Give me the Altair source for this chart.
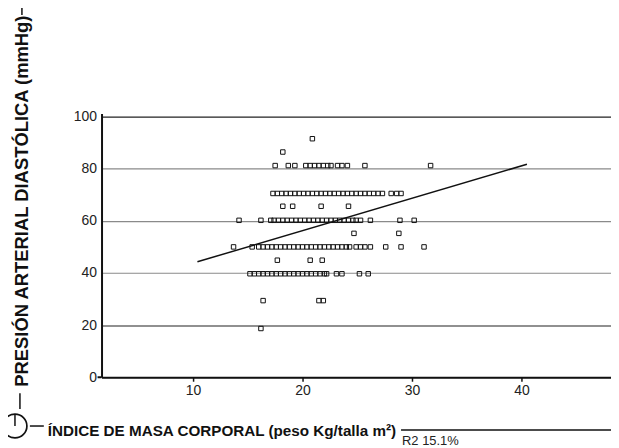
import altair as alt
import pandas as pd

# ---- data ----
dbp_levels = [91.5, 86.4, 81.2, 70.5, 65.6, 60.2, 55.2, 50.0, 44.9, 39.7, 29.4, 18.7]
bmi_91 = [20.9]
bmi_86 = [18.2]
bmi_81 = [17.5, 18.7, 19.3, 20.3, 20.7, 21.1, 21.5, 21.9, 22.3, 22.6, 23.2, 23.6, 24.1, 25.7, 31.7]
bmi_70 = [17.3, 17.7, 18.1, 18.5, 18.9, 19.3, 19.7, 20.1, 20.5, 20.9, 21.3, 21.7, 22.1, 22.5, 22.9,
          23.3, 23.7, 24.1, 24.5, 24.9, 25.3, 25.7, 26.1, 26.5, 26.9, 27.3, 28.1, 28.6, 29.0]
bmi_65 = [18.2, 19.1, 21.7, 24.2]
bmi_60 = [14.2, 16.2, 17.1, 17.4, 17.8, 18.2, 18.6, 19.0, 19.4, 19.8, 20.2, 20.6, 21.0, 21.4, 21.8,
          22.2, 22.6, 23.0, 23.4, 23.8, 24.2, 24.6, 24.9, 25.3, 26.2, 28.9, 30.2]
bmi_55 = [24.7, 28.8]
bmi_50 = [13.7, 15.4, 16.0, 16.4, 16.8, 17.2, 17.6, 18.0, 18.4, 18.8, 19.2, 19.6, 20.0, 20.4, 20.8,
          21.2, 21.6, 22.0, 22.4, 22.8, 23.2, 23.6, 24.0, 24.3, 24.9, 25.3, 25.7, 26.2, 27.6, 29.0, 31.1]
bmi_45 = [17.7, 20.7, 21.8]
bmi_40 = [15.2, 15.6, 16.0, 16.4, 16.8, 17.2, 17.6, 18.0, 18.4, 18.8, 19.2, 19.6, 20.0, 20.4, 20.8,
          21.2, 21.6, 22.0, 22.2, 23.1, 23.6, 25.2, 26.0]
bmi_29 = [16.4, 21.5, 21.9]
bmi_19 = [16.2]
bmi_rows = [bmi_91, bmi_86, bmi_81, bmi_70, bmi_65, bmi_60, bmi_55, bmi_50, bmi_45, bmi_40, bmi_29, bmi_19]

reg_x = [10.4, 40.5]
reg_y = [44.3, 81.7]

y_ticks = [0, 20, 40, 60, 80, 100]
x_ticks = [10, 20, 30, 40]

y_title = "PRESIÓN ARTERIAL DIASTÓLICA (mmHg)"
x_title = "ÍNDICE DE MASA CORPORAL (peso Kg/talla m²)"
r2_text = "R2 15.1%"

rows = []
for lvl, xs in zip(dbp_levels, bmi_rows):
    for v in xs:
        rows.append({"imc": v, "pad": lvl})
pts = pd.DataFrame(rows)
reg = pd.DataFrame({"imc": reg_x, "pad": reg_y})

FONT = "Liberation Sans"
W, H = 512, 265

xscale = alt.Scale(domain=[1.64, 48.18], nice=False, zero=False)
yscale = alt.Scale(domain=[0, 101.15], nice=False, zero=False)

grid_color = alt.condition("datum.value == 100 || datum.value == 20",
                           alt.value("#222222"), alt.value("#8a8a8a"))

xaxis = alt.Axis(values=x_ticks, grid=False, title=None, domainColor="#111111", domainWidth=2,
                 tickColor="#111111", tickSize=4, tickWidth=1.5, labelFontSize=14, labelFont=FONT,
                 labelColor="#222222", labelPadding=2)
yaxis = alt.Axis(values=y_ticks, grid=True, gridColor=grid_color, gridWidth=1.2, title=None,
                 domainColor="#111111", domainWidth=2, ticks=False, labelFontSize=14,
                 labelFont=FONT, labelColor="#222222", labelPadding=5, labelBaseline="middle")

points = alt.Chart(pts).mark_point(shape="square", filled=False, size=20, strokeWidth=1,
                                   color="#111111", opacity=1).encode(
    x=alt.X("imc:Q", scale=xscale, axis=xaxis),
    y=alt.Y("pad:Q", scale=yscale, axis=yaxis),
)

line = alt.Chart(reg).mark_line(color="#111111", strokeWidth=1.5).encode(
    x=alt.X("imc:Q", scale=xscale), y=alt.Y("pad:Q", scale=yscale))

# decorations (page px -> chart px: x-102, y-113)
def rule(x1, y1, x2, y2, w=1.5):
    return alt.Chart(pd.DataFrame({"a": [0]})).mark_rule(color="#111111", strokeWidth=w).encode(
        x=alt.value(x1), y=alt.value(y1), x2=alt.value(x2), y2=alt.value(y2))

dec_df = pd.DataFrame({"a": [0]})
ytitle = alt.Chart(dec_df).mark_text(text=y_title, angle=270, font=FONT, fontSize=18.5,
                                     fontWeight="bold", color="#111111", align="center",
                                     baseline="middle").encode(x=alt.value(-80), y=alt.value(88))
xtitle = alt.Chart(dec_df).mark_text(text=x_title, font=FONT, fontSize=15.3, fontWeight="bold",
                                     color="#111111", align="left",
                                     baseline="alphabetic").encode(x=alt.value(-54), y=alt.value(324))
r2 = alt.Chart(dec_df).mark_text(text=r2_text, font=FONT, fontSize=13, color="#222222",
                                 align="left", baseline="top").encode(x=alt.value(302), y=alt.value(323))
circle = alt.Chart(dec_df).mark_point(shape="circle", size=576, filled=False, strokeWidth=1.7,
                                      color="#111111", opacity=1).encode(
    x=alt.value(-87), y=alt.value(314))

chart = alt.layer(
    points, line,
    rule(-80, -112, -80, -99),
    rule(-82, 281, -82, 297),
    rule(-87, 302, -87, 314),
    rule(-72, 314, -58, 314),
    rule(301, 318, 512, 318),
    rule(-4, H, 0, H, 2),
    ytitle, xtitle, r2, circle,
).properties(
    width=W, height=H,
    autosize=alt.AutoSizeParams(type="none"),
    padding={"left": 94, "top": 105, "right": 0, "bottom": 70},
).configure_view(stroke=None)

chart.save("out.html", embed_options={"renderer": "svg", "actions": False})
